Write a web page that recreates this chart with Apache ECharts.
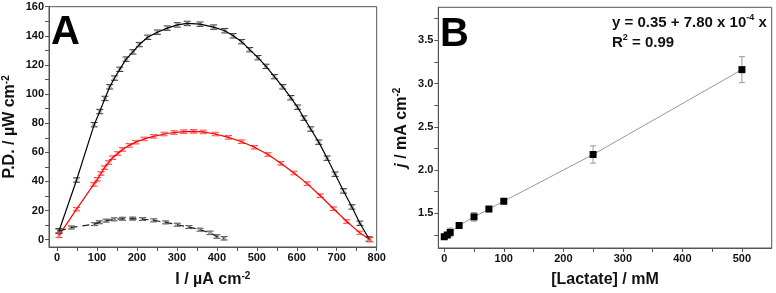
<!DOCTYPE html>
<html>
<head>
<meta charset="utf-8">
<script src="https://cdn.jsdelivr.net/npm/echarts@6/dist/echarts.min.js"></script>
<style>
html,body{margin:0;padding:0;background:#fff;}
#main{width:776px;height:293px;}
</style>
</head>
<body>
<div id="main"></div>
<script>
// panel A : power density curves
var blackI  = [5, 49, 93, 107, 120, 132, 144, 157, 173, 190, 206, 227, 251, 276, 301, 326, 358, 392, 420, 441, 462, 482, 503, 523, 544, 565, 585, 602, 618, 635, 655, 676, 696, 717, 738, 758, 781];
var blackPD = [6, 41, 79, 88, 97, 105, 111, 117, 124, 129, 134, 139, 142.5, 145.3, 147.5, 148.5, 148, 146, 143.5, 140, 136, 130.5, 125, 119, 112, 105, 97.5, 91, 83.5, 76, 67, 56, 45, 33.5, 22.5, 11.3, 0.5];
var blackErr = [1.5, 1.5, 1.5, 1.5, 1.5, 1.5, 1.5, 1.5, 1.5, 1.5, 1.5, 1.5, 1.5, 1.5, 1.5, 1.5, 1.5, 1.5, 1.5, 1.5, 1.5, 1.5, 1.5, 1.5, 1.5, 1.5, 1.5, 1.5, 1.5, 1.5, 1.5, 1.5, 1.5, 1.5, 1.5, 1.5, 1.5];

var redI  = [5, 49, 92, 101, 110, 119, 129, 139, 152, 164, 181, 197, 218, 242, 268, 293, 317, 342, 366, 396, 429, 462, 494, 528, 560, 593, 626, 659, 692, 725, 758, 783];
var redPD = [3, 21, 38, 41.5, 45.5, 49.5, 53, 56.3, 59.2, 62, 64.8, 67, 69.2, 71, 72.6, 73.6, 74.2, 74.4, 74, 72.6, 70.3, 67.3, 63.5, 58.5, 52.5, 45.8, 38.5, 30.2, 21.3, 12.5, 4.7, 0];
var redErr = [1.5, 1.2, 1.2, 1.2, 1.2, 1.2, 1.2, 1.2, 1.2, 1.2, 1.2, 1.2, 1.2, 1.2, 1.2, 1.2, 1.2, 1.2, 1.2, 1.2, 1.2, 1.2, 1.2, 1.2, 1.2, 1.2, 1.2, 1.2, 1.2, 1.2, 1.2, 1.5];

var dashI  = [5, 36, 94, 106, 123, 143, 164, 189, 214, 242, 272, 301, 330, 358, 383, 400, 418];
var dashPD = [6, 8.4, 10.7, 12, 13.1, 14, 14.4, 14.5, 14.2, 13.3, 11.9, 10.3, 8.7, 6.9, 4.7, 2.2, 1];
var dashErr = [1.5, 1, 1, 1, 1, 1, 1, 1, 1, 1, 1, 1, 1, 1, 1.2, 1.2, 1.2];

// panel B : calibration
var lactate = [0, 5, 10, 25, 50, 75, 100, 250, 500];
var jVals   = [1.23, 1.25, 1.28, 1.36, 1.46, 1.55, 1.64, 2.18, 3.16];
var jErr    = [0.02, 0.03, 0.05, 0.02, 0.05, 0.03, 0.03, 0.1, 0.15];

// labelled ticks and all tick marks (major + minor)
var labelsAx = [0, 100, 200, 300, 400, 500, 600, 700, 800];
var ticksAx  = [0, 50, 100, 150, 200, 250, 300, 350, 400, 450, 500, 550, 600, 650, 700, 750, 800];
var labelsAy = [0, 20, 40, 60, 80, 100, 120, 140, 160];
var ticksAy  = [0, 10, 20, 30, 40, 50, 60, 70, 80, 90, 100, 110, 120, 130, 140, 150, 160];
var labelsBx = [0, 100, 200, 300, 400, 500];
var ticksBx  = [0, 50, 100, 150, 200, 250, 300, 350, 400, 450, 500];
var labelsBy = [1.5, 2.0, 2.5, 3.0, 3.5];
var ticksBy  = [1.25, 1.5, 1.75, 2.0, 2.25, 2.5, 2.75, 3.0, 3.25, 3.5, 3.75];

var FONT = 'Liberation Sans';

function pairs(xs, ys) {
    return xs.map(function (x, i) { return [x, ys[i]]; });
}
function errData(xs, ys, es) {
    return xs.map(function (x, i) { return [x, ys[i] - es[i], ys[i] + es[i], ys[i]]; });
}
// error bar with caps, optional small open square at the point
function errSeries(xi, yi, data, color, cap, boxColor) {
    return {
        type: 'custom',
        xAxisIndex: xi,
        yAxisIndex: yi,
        data: data,
        z: 1,
        renderItem: function (params, api) {
            var lo = api.coord([api.value(0), api.value(1)]);
            var hi = api.coord([api.value(0), api.value(2)]);
            var mid = api.coord([api.value(0), api.value(3)]);
            var st = { stroke: color, lineWidth: 1 };
            var kids = [
                { type: 'line', shape: { x1: lo[0], y1: lo[1], x2: hi[0], y2: hi[1] }, style: st },
                { type: 'line', shape: { x1: lo[0] - cap, y1: lo[1], x2: lo[0] + cap, y2: lo[1] }, style: st },
                { type: 'line', shape: { x1: hi[0] - cap, y1: hi[1], x2: hi[0] + cap, y2: hi[1] }, style: st }
            ];
            if (boxColor) {
                kids.push({ type: 'rect', shape: { x: mid[0] - 1.5, y: mid[1] - 1.5, width: 3, height: 3 },
                    style: { fill: 'none', stroke: boxColor, lineWidth: 0.8 } });
            }
            return { type: 'group', children: kids };
        }
    };
}

var nameRich = {
    a: { fontFamily: FONT, fontWeight: 'bold', fontSize: 16, color: '#111' },
    i: { fontFamily: FONT, fontWeight: 'bold', fontStyle: 'italic', fontSize: 16, color: '#111' },
    s: { fontFamily: FONT, fontWeight: 'bold', fontSize: 10, color: '#111', verticalAlign: 'top', padding: [0, 0, 8, 0] }
};
var lineCol = '#555';

function makeAxis(grid, pos, min, max, labels, ticks, name, gap, fmt) {
    return {
        type: 'value', gridIndex: grid, position: pos, min: min, max: max,
        axisLine: { show: true, onZero: false, lineStyle: { color: lineCol, width: 1 } },
        axisTick: { show: true, inside: false, length: 4, customValues: ticks, lineStyle: { color: lineCol } },
        axisLabel: { show: true, customValues: labels, margin: 5, formatter: fmt, fontFamily: FONT, fontWeight: 'bold', fontSize: 11, color: '#111' },
        splitLine: { show: false },
        name: name, nameLocation: 'middle', nameGap: gap,
        nameTextStyle: { rich: nameRich }
    };
}

var option = {
    backgroundColor: '#fff',
    animation: false,
    grid: [
        { left: 45.2, top: 6.7, width: 331.5, height: 247.3, show: true, borderColor: lineCol, borderWidth: 1 },
        { left: 438.3, top: 7.3, width: 333.4, height: 247.7, show: true, borderColor: lineCol, borderWidth: 1 }
    ],
    xAxis: [
        makeAxis(0, 'bottom', -20, 800, labelsAx, ticksAx, '{a|I / µA cm}{s|-2}', 24),
        makeAxis(1, 'bottom', -10, 550, labelsBx, ticksBx, '{a|[Lactate] / mM}', 24)
    ],
    yAxis: [
        makeAxis(0, 'left', -5, 160, labelsAy, ticksAy, '{a|P.D. / µW cm}{s|-2}', 30),
        makeAxis(1, 'left', 1.1, 3.88, labelsBy, ticksBy, '{i|j}{a| / mA cm}{s|-2}', 28, function (v) { return v.toFixed(1); })
    ],
    series: [
        errSeries(0, 0, errData(blackI, blackPD, blackErr), '#333', 3.5, '#999'),
        errSeries(0, 0, errData(redI, redPD, redErr), '#ff3030', 3.5, '#ff9090'),
        errSeries(0, 0, errData(dashI, dashPD, dashErr), '#444', 3.5, '#888'),
        {
            type: 'line', xAxisIndex: 0, yAxisIndex: 0, data: pairs(blackI, blackPD),
            symbol: 'none', lineStyle: { color: '#000', width: 1.2 }, z: 3
        },
        {
            type: 'line', xAxisIndex: 0, yAxisIndex: 0, data: pairs(redI, redPD),
            symbol: 'none', lineStyle: { color: '#ff0000', width: 1.2 }, z: 3
        },
        {
            type: 'line', xAxisIndex: 0, yAxisIndex: 0, data: pairs(dashI, dashPD),
            symbol: 'none', lineStyle: { color: '#222', width: 1.2, type: [7, 5] }, z: 3
        },
        errSeries(1, 1, errData(lactate, jVals, jErr), '#999', 3),
        {
            type: 'line', xAxisIndex: 1, yAxisIndex: 1, data: pairs(lactate, jVals),
            symbol: 'rect', symbolSize: 7, showSymbol: true,
            lineStyle: { color: '#999', width: 1 }, itemStyle: { color: '#000' }, z: 3
        }
    ],
    graphic: [
        { type: 'text', left: 51, top: 13, style: { text: 'A', fontFamily: FONT, fontWeight: 'bold', fontSize: 40, fill: '#000' } },
        { type: 'text', left: 440, top: 15, style: { text: 'B', fontFamily: FONT, fontWeight: 'bold', fontSize: 40, fill: '#000' } },
        {
            type: 'text', left: 612, top: 13,
            style: {
                text: '{a|y = 0.35 + 7.80 x 10}{s|-4}{a| x}\n{a|R}{s|2}{a| = 0.99}',
                rich: {
                    a: { fontFamily: FONT, fontWeight: 'bold', fontSize: 15, fill: '#111', lineHeight: 20 },
                    s: { fontFamily: FONT, fontWeight: 'bold', fontSize: 9, fill: '#111', verticalAlign: 'top', lineHeight: 20, padding: [0, 0, 10, 0] }
                }
            }
        }
    ]
};

var myChart = echarts.init(document.getElementById('main'));
myChart.setOption(option);
</script>
</body>
</html>
